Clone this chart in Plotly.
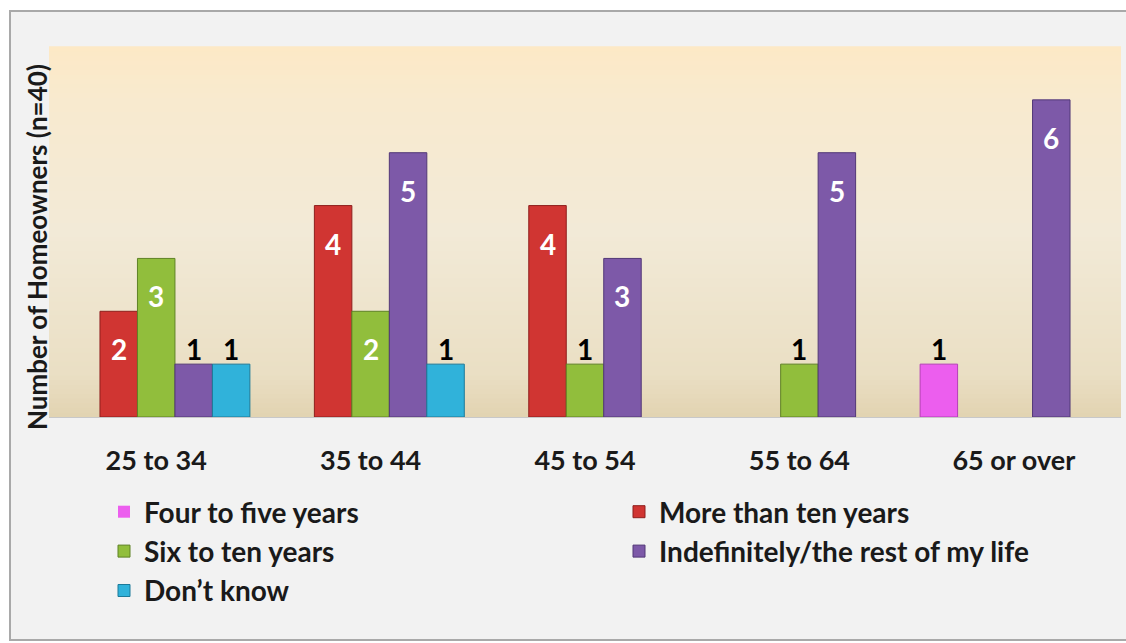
import plotly.graph_objects as go

categories = ["25 to 34", "35 to 44", "45 to 54", "55 to 64", "65 or over"]
series_names = ["Four to five years", "More than ten years", "Six to ten years",
                "Indefinitely/the rest of my life", "Don\u2019t know"]
four_to_five = [0, 0, 0, 0, 1]
more_than_ten = [2, 4, 4, 0, 0]
six_to_ten = [3, 2, 1, 1, 0]
indefinitely = [1, 5, 3, 5, 6]
dont_know = [1, 1, 0, 0, 0]
values = [four_to_five, more_than_ten, six_to_ten, indefinitely, dont_know]

colors = ["#ec5eee", "#d03532", "#91be3c", "#7d59a8", "#30b2da"]
edges = ["#b53fb8", "#8e1f1d", "#5f8225", "#523877", "#1d7a99"]
legend_of = ["legend", "legend2", "legend", "legend2", "legend"]

FONT = "Lato"
BARGAP = 0.126

fig = go.Figure()
for name, vals, c, e, lg in zip(series_names, values, colors, edges, legend_of):
    fig.add_trace(go.Bar(
        x=categories, y=vals, name=name, legend=lg,
        marker=dict(color=c, line=dict(color=e, width=[1 if v else 0 for v in vals])),
        hoverinfo="x+y+name",
    ))

# data labels
n = len(values)
slot = (1 - BARGAP) / n
annotations = []
for j, vals in enumerate(values):
    for i, v in enumerate(vals):
        if v == 0:
            continue
        inside = v >= 2
        annotations.append(dict(
            x=i + (j - (n - 1) / 2) * slot, y=v, xref="x", yref="y",
            text=str(v), showarrow=False, xanchor="center", yanchor="middle",
            yshift=-38 if inside else 15,
            font=dict(family=FONT, size=28, weight="bold",
                      color="white" if inside else "black"),
        ))

# frame and gradient background (layout decoration)
L, R, T, B = 49, 5, 47, 226
W, H = 1126, 643
pw, ph = W - L - R, H - T - B
def px_x(x):
    return (x - L) / pw
def px_y(y):
    return (H - B - y) / ph

annotations.append(dict(
    x=px_x(37), y=px_y(247), xref="paper", yref="paper", textangle=-90,
    text="Number of Homeowners (n=40)", showarrow=False,
    xanchor="center", yanchor="middle",
    font=dict(family=FONT, size=26, weight="bold", color="#1a1a1a"),
))

shapes = [dict(type="rect", xref="paper", yref="paper",
               x0=px_x(10), x1=px_x(1140), y0=px_y(640), y1=px_y(11),
               fillcolor="#f2f2f2", line=dict(color="#a9a9a9", width=2), layer="below")]

stops = [(0.0, (0xe2, 0xd3, 0xb1)), (0.12, (0xea, 0xdf, 0xc4)), (0.5, (0xf2, 0xea, 0xd7)),
         (0.85, (0xf8, 0xea, 0xcf)), (1.0, (0xfd, 0xe9, 0xc6))]
def col_at(t):
    for (t0, c0), (t1, c1) in zip(stops[:-1], stops[1:]):
        if t0 <= t <= t1:
            f = (t - t0) / (t1 - t0)
            return "rgb(%d,%d,%d)" % tuple(round(a + (b - a) * f) for a, b in zip(c0, c1))
    return "rgb(%d,%d,%d)" % stops[-1][1]
NS = 80
for k in range(NS):
    t = (k + 0.5) / NS
    shapes.append(dict(type="rect", xref="paper", yref="paper",
                       x0=0, x1=1, y0=k / NS, y1=(k + 1) / NS + 0.002,
                       fillcolor=col_at(t), line=dict(width=0), layer="below"))

legend_font = dict(family=FONT, size=28, weight="bold", color="#1a1a1a")
fig.update_layout(
    width=W, height=H,
    margin=dict(l=L, r=R, t=T, b=B, autoexpand=False),
    paper_bgcolor="white",
    plot_bgcolor="rgba(0,0,0,0)",
    barmode="group", bargap=BARGAP, bargroupgap=0,
    font=dict(family=FONT, color="black"),
    shapes=shapes,
    annotations=annotations,
    xaxis=dict(showgrid=False, zeroline=False, showline=True, linecolor="#c8c8c8",
               linewidth=1, ticks="", ticklabelstandoff=20,
               tickfont=dict(family=FONT, size=27, weight="bold", color="#1a1a1a")),
    yaxis=dict(range=[0, 7], showgrid=False, zeroline=False, showticklabels=False,
               ticks="", showline=False),
    legend=dict(orientation="v", x=px_x(104), y=px_y(487), xanchor="left", yanchor="top",
                bgcolor="rgba(0,0,0,0)", font=legend_font, traceorder="normal"),
    legend2=dict(orientation="v", x=px_x(619), y=px_y(487), xanchor="left", yanchor="top",
                 bgcolor="rgba(0,0,0,0)", font=legend_font, traceorder="normal"),
    showlegend=True,
)

fig.write_html("out.html")
